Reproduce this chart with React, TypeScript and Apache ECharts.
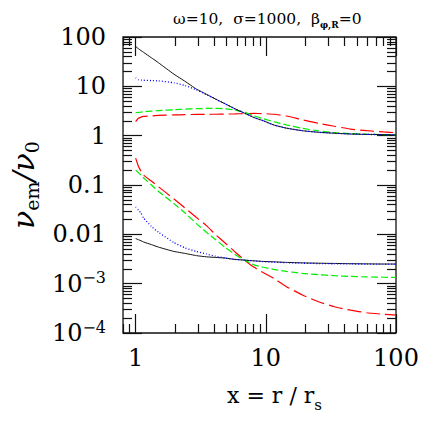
import React, { useEffect, useRef } from 'react';
import * as echarts from 'echarts';

// ---- data ----
const xGrid = [1, 1.05, 1.1, 1.15, 1.32, 1.5, 1.97, 2.4, 2.93, 3.5, 4.12, 4.89, 5.8, 6.87, 8.15, 9.6, 11.5, 14.4, 19.1, 25.4, 33.7, 44.9, 59.7, 80, 100];

const upperBlack = [64, 58, 53, 49, 38, 30, 17.6, 12.6, 8.8, 6.9, 5.5, 4.4, 3.5, 2.85, 2.32, 2.0, 1.65, 1.42, 1.26, 1.17, 1.12, 1.08, 1.06, 1.05, 1.04];
const upperBlue = [15, 13.6, 13.4, 13.3, 13.1, 12.9, 11.8, 10.4, 8.5, 6.8, 5.5, 4.4, 3.5, 2.85, 2.32, 2.0, 1.65, 1.42, 1.26, 1.17, 1.12, 1.08, 1.06, 1.05, 1.04];
const upperGreen = [2.93, 2.96, 3.0, 3.05, 3.15, 3.23, 3.35, 3.45, 3.52, 3.56, 3.56, 3.5, 3.3, 2.98, 2.51, 2.2, 1.92, 1.65, 1.41, 1.25, 1.15, 1.1, 1.07, 1.05, 1.04];
const upperRed = [1.92, 2.25, 2.38, 2.45, 2.52, 2.57, 2.63, 2.67, 2.7, 2.71, 2.72, 2.74, 2.76, 2.8, 2.82, 2.8, 2.72, 2.5, 2.1, 1.78, 1.55, 1.36, 1.26, 1.19, 1.15];

const lowerBlack = [0.0082, 0.0078, 0.0074, 0.007, 0.0062, 0.0055, 0.0045, 0.0041, 0.0037, 0.0035, 0.0034, 0.0033, 0.0031, 0.003, 0.0029, 0.00282, 0.00277, 0.0027, 0.00264, 0.0026, 0.00257, 0.00254, 0.00252, 0.0025, 0.0025];
const lowerBlue = [0.036, 0.031, 0.027, 0.0215, 0.0145, 0.011, 0.0068, 0.0053, 0.0045, 0.004, 0.0036, 0.0033, 0.0031, 0.003, 0.00289, 0.0028, 0.00273, 0.00266, 0.0026, 0.00256, 0.00253, 0.00251, 0.0025, 0.0025, 0.0025];
const lowerGreen = [0.2, 0.178, 0.158, 0.14, 0.1, 0.074, 0.042, 0.027, 0.0165, 0.011, 0.0078, 0.0054, 0.0039, 0.003, 0.0024, 0.00215, 0.00195, 0.00177, 0.00162, 0.00152, 0.00145, 0.0014, 0.00137, 0.00135, 0.00134];
const lowerRed = [0.35, 0.24, 0.19, 0.16, 0.12, 0.092, 0.052, 0.034, 0.022, 0.015, 0.0098, 0.0066, 0.0044, 0.003, 0.00214, 0.00166, 0.00128, 0.00087, 0.00059, 0.00043, 0.00034, 0.00029, 0.000257, 0.00024, 0.00023];

const xMajorTicks = [1, 10, 100];
const xTickLabels = ['1', '10', '100'];
const yMajorTicks = [1e-4, 1e-3, 0.01, 0.1, 1, 10, 100];
const yTickLabels = ['{b|10}{s|−4}', '{b|10}{s|−3}', '0.01', '0.1', '1', '10', '100'];
const minorMultipliers = [2, 3, 4, 5, 6, 7, 8, 9];
const xExtraMinor = [0.8, 0.9];

const X_MIN = 0.8;
const X_MAX = 100;
const Y_MIN = 1e-4;
const Y_MAX = 100;

const titleText = '{t|ω=10,  σ=1000,  β}{u|φ,R}{t|=0}';

const SERIF = '"DejaVu Serif", "Liberation Serif", serif';

function minorTicks(majors: number[], extra: number[]) {
  const out: number[] = extra.slice();
  for (let i = 0; i < majors.length - 1; i++) {
    for (let k = 0; k < minorMultipliers.length; k++) out.push(majors[i] * minorMultipliers[k]);
  }
  return out;
}

function labelFor(value: number, ticks: number[], labels: string[]) {
  const lg = Math.log10(value);
  const e = Math.round(lg);
  if (Math.abs(lg - e) > 1e-6) return '';
  const i = ticks.findIndex((t) => Math.round(Math.log10(t)) === e);
  return i >= 0 ? labels[i] : '';
}

function lineSeries(name: string, vals: number[], color: string, type: any, width: number) {
  return {
    name,
    type: 'line',
    xAxisIndex: 0,
    yAxisIndex: 0,
    showSymbol: false,
    symbol: 'none',
    smooth: 0.15,
    data: xGrid.map((x, i) => [x, vals[i]]),
    lineStyle: { color, type, width },
    z: 3,
  };
}

// a log axis whose only job is to draw inside ticks at the given values
function tickAxis(min: number, max: number, position: string, values: number[], len: number) {
  return {
    type: 'log',
    logBase: 10,
    min,
    max,
    position,
    gridIndex: 0,
    axisLine: { show: false },
    splitLine: { show: false },
    axisLabel: { show: false },
    axisTick: {
      show: true,
      inside: true,
      length: len,
      customValues: values,
      lineStyle: { color: '#111', width: 1.2 },
    },
  };
}

export default function App() {
  const ref = useRef<HTMLDivElement>(null);
  useEffect(() => {
    if (!ref.current) return;
    const chart = echarts.init(ref.current, undefined, { renderer: 'svg' });
    const xMinor = minorTicks(xMajorTicks, xExtraMinor);
    const yMinor = minorTicks(yMajorTicks, []);
    const option: any = {
      animation: false,
      backgroundColor: '#fff',
      title: {
        text: titleText,
        left: 168,
        top: 4,
        textStyle: {
          fontWeight: 'normal',
          rich: {
            t: { fontFamily: SERIF, fontSize: 15.5, fontWeight: 'normal', color: '#000', lineHeight: 20 },
            u: { fontFamily: SERIF, fontSize: 9, fontWeight: 'bold', color: '#000', verticalAlign: 'bottom', lineHeight: 12, padding: [8, 0, 0, 0] },
          },
        },
      },
      grid: {
        left: 113,
        right: 36,
        top: 37,
        bottom: 99,
        show: true,
        borderColor: '#111',
        borderWidth: 1.3,
      },
      xAxis: [
        {
          type: 'log',
          logBase: 10,
          min: X_MIN,
          max: X_MAX,
          position: 'bottom',
          gridIndex: 0,
          axisLine: { show: false },
          axisTick: {
            show: true,
            inside: true,
            length: 19,
            customValues: xMajorTicks,
            lineStyle: { color: '#111', width: 1.2 },
          },
          splitLine: { show: false },
          axisLabel: {
            margin: 13,
            fontFamily: SERIF,
            fontSize: 24,
            color: '#000',
            formatter: (v: number) => labelFor(v, xMajorTicks, xTickLabels),
          },
          name: '{m|x = r / r}{s|s}',
          nameLocation: 'middle',
          nameGap: 51,
          nameTextStyle: {
            padding: [0, 0, 0, 30],
            rich: {
              m: { fontFamily: SERIF, fontSize: 22, color: '#000', lineHeight: 24, verticalAlign: 'top' },
              s: { fontFamily: SERIF, fontSize: 15, color: '#000', lineHeight: 15, verticalAlign: 'top', padding: [13, 0, 0, 0] },
            },
          },
        },
        tickAxis(X_MIN, X_MAX, 'bottom', xMinor, 9),
        tickAxis(X_MIN, X_MAX, 'top', xMajorTicks, 19),
        tickAxis(X_MIN, X_MAX, 'top', xMinor, 9),
      ],
      yAxis: [
        {
          type: 'log',
          logBase: 10,
          min: Y_MIN,
          max: Y_MAX,
          position: 'left',
          gridIndex: 0,
          axisLine: { show: false },
          axisTick: {
            show: true,
            inside: true,
            length: 19,
            customValues: yMajorTicks,
            lineStyle: { color: '#111', width: 1.2 },
          },
          splitLine: { show: false },
          axisLabel: {
            margin: 17,
            fontFamily: SERIF,
            fontSize: 24,
            color: '#000',
            formatter: (v: number) => labelFor(v, yMajorTicks, yTickLabels),
            rich: {
              b: { fontFamily: SERIF, fontSize: 24, color: '#000', lineHeight: 28 },
              s: { fontFamily: SERIF, fontSize: 16, color: '#000', verticalAlign: 'top', lineHeight: 18 },
            },
          },
          name: '{n|ν}{s|em}{n|/ν}{s|0}',
          nameLocation: 'middle',
          nameRotate: 90,
          nameGap: 78,
          nameTextStyle: {
            rich: {
              n: { fontFamily: SERIF, fontStyle: 'italic', fontSize: 30, color: '#000', lineHeight: 32, verticalAlign: 'top' },
              s: { fontFamily: SERIF, fontSize: 19, color: '#000', lineHeight: 19, verticalAlign: 'top', padding: [14, 0, 0, 0] },
            },
          },
        },
        tickAxis(Y_MIN, Y_MAX, 'left', yMinor, 9),
        tickAxis(Y_MIN, Y_MAX, 'right', yMajorTicks, 19),
        tickAxis(Y_MIN, Y_MAX, 'right', yMinor, 9),
      ],
      series: [
        lineSeries('upperRed', upperRed, '#ff0000', [14, 5], 1.2),
        lineSeries('lowerRed', lowerRed, '#ff0000', [14, 5], 1.2),
        lineSeries('upperGreen', upperGreen, '#00ee00', [7, 3], 1.2),
        lineSeries('lowerGreen', lowerGreen, '#00ee00', [7, 3], 1.2),
        lineSeries('upperBlack', upperBlack, '#111111', 'solid', 1),
        lineSeries('lowerBlack', lowerBlack, '#111111', 'solid', 1),
        lineSeries('upperBlue', upperBlue, '#0000ff', [1, 2], 1.3),
        lineSeries('lowerBlue', lowerBlue, '#0000ff', [1, 2], 1.3),
      ],
    };
    chart.setOption(option);
    return () => chart.dispose();
  }, []);
  return <div ref={ref} style={{ position: 'fixed', left: 0, top: 0, width: 432, height: 432 }} />;
}
